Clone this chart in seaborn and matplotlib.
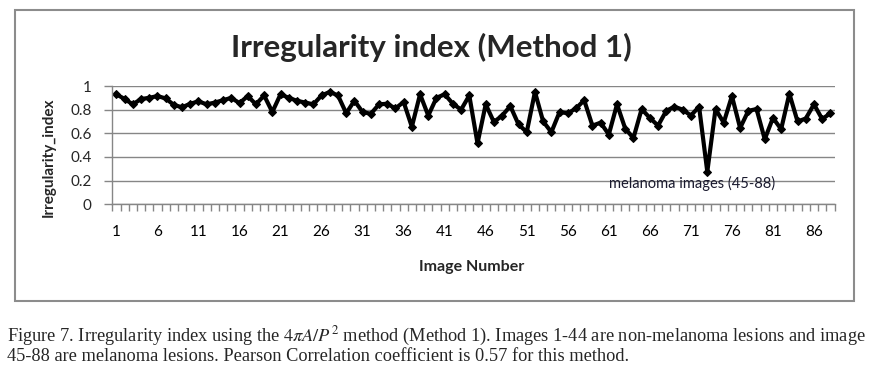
import matplotlib
matplotlib.use("Agg")
import matplotlib.pyplot as plt
import seaborn as sns
import pandas as pd
from matplotlib.patches import Rectangle

image_number = list(range(1, 89))
irregularity = [
    0.93, 0.89, 0.845, 0.89, 0.90, 0.915, 0.895, 0.84, 0.82, 0.85,
    0.87, 0.845, 0.86, 0.88, 0.90, 0.855, 0.915, 0.845, 0.92, 0.78,
    0.93, 0.90, 0.875, 0.86, 0.845, 0.92, 0.95, 0.92, 0.77, 0.875,
    0.78, 0.765, 0.845, 0.85, 0.81, 0.865, 0.655, 0.93, 0.75, 0.90,
    0.93, 0.85, 0.80, 0.92, 0.515, 0.845, 0.695, 0.75, 0.83, 0.675,
    0.61, 0.95, 0.70, 0.61, 0.78, 0.77, 0.81, 0.88, 0.665, 0.69,
    0.59, 0.845, 0.64, 0.56, 0.805, 0.73, 0.665, 0.79, 0.825, 0.80,
    0.75, 0.825, 0.275, 0.805, 0.69, 0.915, 0.645, 0.79, 0.805, 0.55,
    0.73, 0.635, 0.935, 0.70, 0.725, 0.845, 0.72, 0.77,
]
x_tick_labels = [str(v) for v in range(1, 89, 5)]
y_ticks = [0, 0.2, 0.4, 0.6, 0.8, 1.0]
y_tick_labels = ["0", "0.2", "0.4", "0.6", "0.8", "1"]

df = pd.DataFrame({"Image Number": image_number, "Irregularity_index": irregularity})

sns.set_theme(style="white")
plt.rcParams["font.family"] = ["Lato", "DejaVu Sans"]
plt.rcParams["mathtext.fontset"] = "stix"

W, H = 882, 385
fig = plt.figure(figsize=(W / 100, H / 100), dpi=100)

# chart border
fig.patches.append(Rectangle((15 / W, 1 - 301 / H), (854 - 15) / W, (301 - 10) / H,
                             transform=fig.transFigure, fill=False,
                             edgecolor="#8c8c8c", linewidth=1.5))

ax = fig.add_axes([112.3 / W, 1 - 204.3 / H, (834.5 - 112.3) / W, (204.3 - 86) / H])

sns.lineplot(data=df, x="Image Number", y="Irregularity_index", ax=ax,
             color="black", linewidth=3.0, marker="D", markersize=4.5,
             markeredgecolor="black")

ax.set_xlim(0.5, 88.5)
ax.set_ylim(0, 1)
ax.set_yticks(y_ticks)
ax.set_yticklabels(y_tick_labels)
ax.set_xticks(list(range(1, 89, 5)))
ax.set_xticklabels(x_tick_labels)
ax.set_xticks([v + 0.5 for v in range(0, 89)], minor=True)
ax.tick_params(axis="x", which="major", length=0, pad=15, labelsize=11, colors="black")
ax.tick_params(axis="x", which="minor", length=5, width=1, color="#868686", direction="out", bottom=True)
ax.tick_params(axis="y", which="major", length=6, width=1, color="#868686", direction="out",
               pad=9, labelsize=11, left=True)
ax.grid(axis="y", color="#868686", linewidth=1)
ax.set_axisbelow(True)
for side in ["top", "right"]:
    ax.spines[side].set_visible(False)
for side in ["left", "bottom"]:
    ax.spines[side].set_color("#868686")
    ax.spines[side].set_linewidth(1)
ax.set_xlabel("")
ax.set_ylabel("")

ax.text(61, 0.18, "melanoma images (45-88)", fontsize=10.5, color="#1a1a2e",
        ha="left", va="center")

fig.text(431.5 / W, 1 - 47 / H, "Irregularity index (Method 1)",
         fontsize=22.5, fontweight="bold", ha="center", va="center")
fig.text(49 / W, 1 - 157 / H, "Irregularity_index", rotation=90, fontsize=11,
         fontweight="bold", ha="center", va="center")
fig.text(472 / W, 1 - 267 / H, "Image Number", fontsize=11.5, fontweight="bold",
         ha="center", va="center")

serif = ["Liberation Serif", "DejaVu Serif"]
caption = (r"Figure 7. Irregularity index using the $4\pi A/P^2$ method (Method 1). "
           "Images 1-44 are non-melanoma lesions and image\n"
           "45-88 are melanoma lesions. Pearson Correlation coefficient is 0.57 for this method.")
fig.text(7 / W, 1 - 345 / H, caption, family=serif, fontsize=13.2,
         ha="left", va="center", linespacing=1.0)

fig.savefig("out.png", dpi=100)
